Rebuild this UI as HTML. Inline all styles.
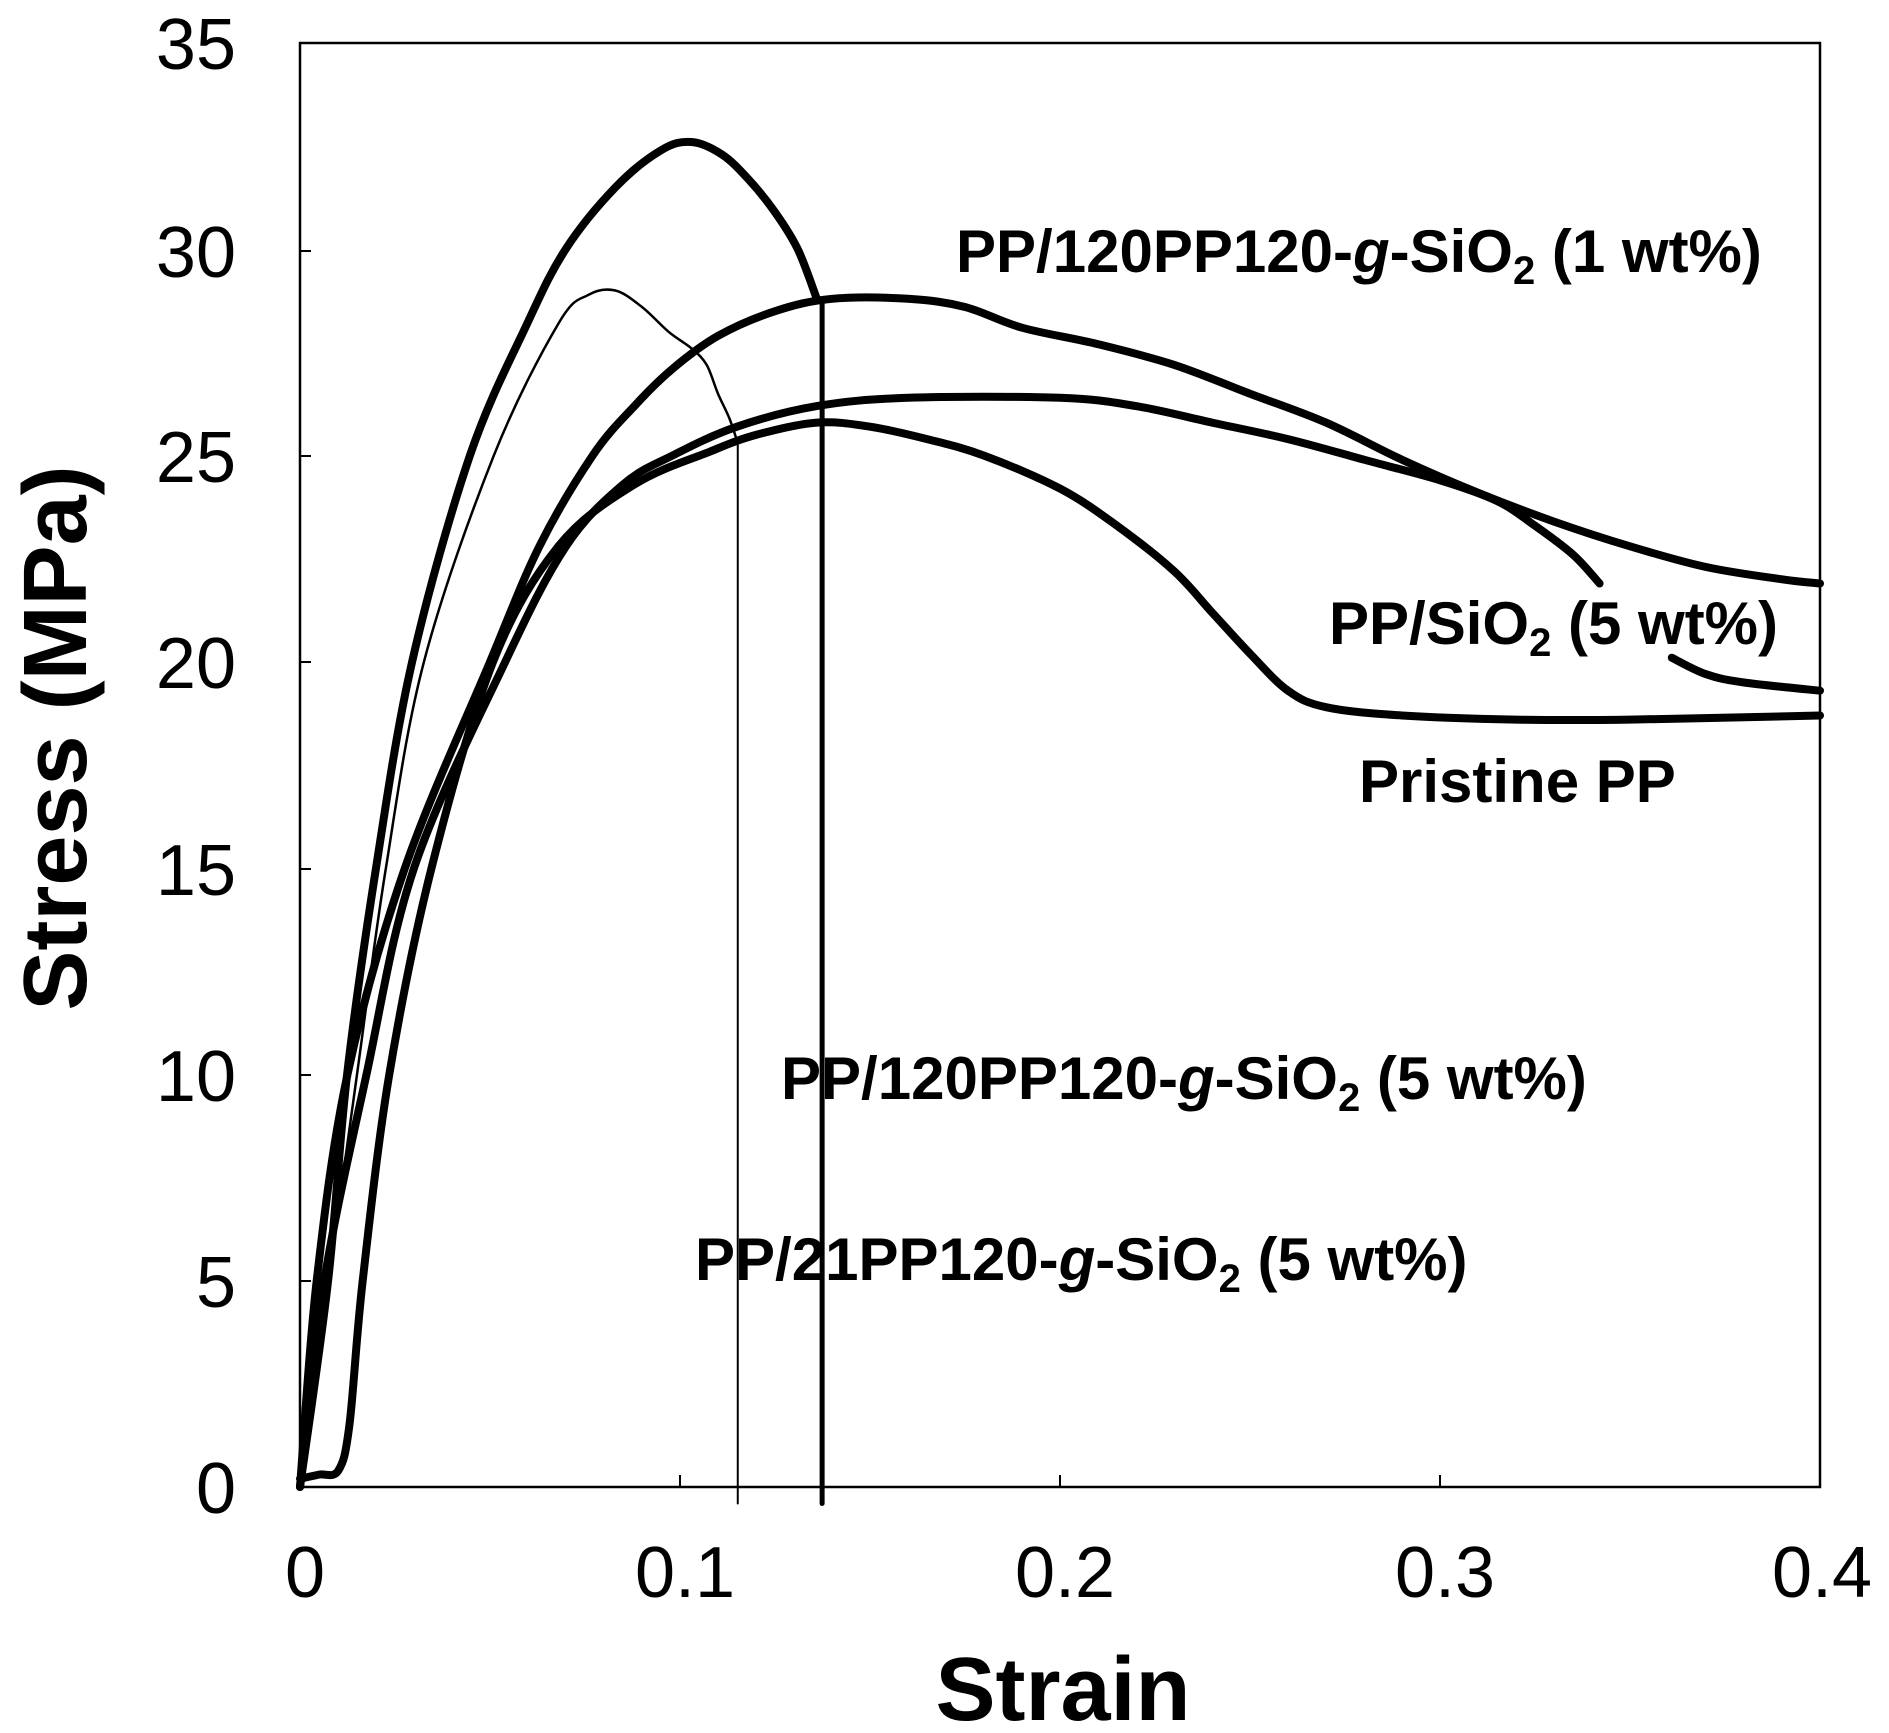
<!DOCTYPE html>
<html><head><meta charset="utf-8"><style>
html,body{margin:0;padding:0;background:#fff}
svg{display:block}
text{font-family:"Liberation Sans",Arial,sans-serif;fill:#000}
</style></head><body>
<svg id="s" width="1889" height="1733" viewBox="0 0 1889 1733" xmlns="http://www.w3.org/2000/svg">
<rect x="300" y="43" width="1520" height="1444" fill="none" stroke="#000" stroke-width="2.5"/>
<g stroke="#000" stroke-width="2">
<line x1="300" y1="251" x2="311" y2="251"/><line x1="300" y1="456" x2="311" y2="456"/>
<line x1="300" y1="662" x2="311" y2="662"/><line x1="300" y1="869" x2="311" y2="869"/>
<line x1="300" y1="1075" x2="311" y2="1075"/><line x1="300" y1="1281" x2="311" y2="1281"/>
<line x1="680" y1="1487" x2="680" y2="1475"/><line x1="1060" y1="1487" x2="1060" y2="1475"/>
<line x1="1440" y1="1487" x2="1440" y2="1475"/>
</g>
<g font-size="72" text-anchor="end">
<text x="236" y="69">35</text><text x="236" y="277">30</text><text x="236" y="482">25</text>
<text x="236" y="688">20</text><text x="236" y="895">15</text><text x="236" y="1101">10</text>
<text x="236" y="1307">5</text><text x="236" y="1513">0</text>
</g>
<g font-size="72" text-anchor="middle">
<text x="305" y="1597">0</text><text x="685" y="1597">0.1</text><text x="1065" y="1597">0.2</text>
<text x="1445" y="1597">0.3</text><text x="1822" y="1597">0.4</text>
</g>
<text x="1063" y="1720" font-size="90" font-weight="bold" text-anchor="middle">Strain</text>
<text transform="translate(86,738) rotate(-90)" font-size="90" font-weight="bold" text-anchor="middle">Stress (MPa)</text>
<g id="curves" fill="none" stroke="#000" stroke-linejoin="round" stroke-linecap="round"></g>
<g font-size="60" font-weight="bold">
<text x="956" y="272">PP/120PP120-<tspan font-style="italic">g</tspan>-SiO<tspan font-size="40" dy="12">2</tspan><tspan dy="-12"> (1 wt%)</tspan></text>
<text x="1329" y="644">PP/SiO<tspan font-size="40" dy="12">2</tspan><tspan dy="-12"> (5 wt%)</tspan></text>
<text x="1359" y="802">Pristine PP</text>
<text x="781" y="1099">PP/120PP120-<tspan font-style="italic">g</tspan>-SiO<tspan font-size="40" dy="12">2</tspan><tspan dy="-12"> (5 wt%)</tspan></text>
<text x="695" y="1280">PP/21PP120-<tspan font-style="italic">g</tspan>-SiO<tspan font-size="40" dy="12">2</tspan><tspan dy="-12"> (5 wt%)</tspan></text>
</g>
</svg>
<script>
var X=function(s){return 300+3800*s},Y=function(v){return 1487-41.257*v};
function path(p){var pts=p.map(function(a){return [X(a[0]),Y(a[1])]});
var d="M"+pts[0][0].toFixed(1)+","+pts[0][1].toFixed(1);
for(var i=0;i<pts.length-1;i++){var p0=pts[Math.max(0,i-1)],p1=pts[i],p2=pts[i+1],p3=pts[Math.min(pts.length-1,i+2)];
var c1=[p1[0]+(p2[0]-p0[0])/6,p1[1]+(p2[1]-p0[1])/6],c2=[p2[0]-(p3[0]-p1[0])/6,p2[1]-(p3[1]-p1[1])/6];
d+="C"+c1[0].toFixed(1)+","+c1[1].toFixed(1)+" "+c2[0].toFixed(1)+","+c2[1].toFixed(1)+" "+p2[0].toFixed(1)+","+p2[1].toFixed(1);}
return d;}
var g=document.getElementById("curves");
function add(p,w){var e=document.createElementNS("http://www.w3.org/2000/svg","path");e.setAttribute("d",path(p));e.setAttribute("stroke-width",w);g.appendChild(e);}
function line(x1,y1,x2,y2,w){var e=document.createElementNS("http://www.w3.org/2000/svg","line");
e.setAttribute("x1",X(x1));e.setAttribute("y1",Y(y1));e.setAttribute("x2",X(x2));e.setAttribute("y2",Y(y2));e.setAttribute("stroke-width",w);e.setAttribute("stroke","#000");g.appendChild(e);}
// A: 1 wt%
add([[0,0],[0.0074,5],[0.0124,10],[0.02,15],[0.0295,20],[0.0447,25],[0.0598,28.2],[0.0699,30],[0.083,31.5],[0.095,32.4],[0.103,32.6],[0.111,32.3],[0.118,31.7],[0.125,30.9],[0.131,30],[0.136,28.8]],8);
line(0.1374,28.8,0.1374,-0.4,5);
// B thin
add([[0,0],[0.0075,5],[0.015,10],[0.0226,15],[0.0326,20],[0.051,25],[0.068,28.2],[0.076,28.9],[0.083,29],[0.09,28.6],[0.097,28],[0.103,27.6],[0.107,27.2],[0.11,26.5],[0.113,25.9],[0.1152,25.3]],2.5);
line(0.1152,25.3,0.1152,-0.4,2);
// C
add([[0,0],[0.0044,5],[0.0125,10],[0.0276,15],[0.05,20],[0.063,22.8],[0.077,25],[0.088,26.2],[0.098,27.1],[0.11,27.9],[0.125,28.5],[0.14,28.8],[0.16,28.8],[0.175,28.6],[0.19,28.1],[0.21,27.7],[0.23,27.2],[0.25,26.5],[0.27,25.8],[0.29,24.9],[0.31,24.1],[0.33,23.4],[0.35,22.8],[0.37,22.3],[0.39,22],[0.4,21.9]],8);
// D
add([[0,0],[0.0064,5],[0.0175,10],[0.03,15],[0.054,20],[0.07,22.8],[0.085,24.3],[0.098,25],[0.115,25.7],[0.136,26.2],[0.16,26.4],[0.2,26.4],[0.22,26.2],[0.24,25.8],[0.26,25.4],[0.28,24.9],[0.3,24.4],[0.315,23.9],[0.325,23.3],[0.335,22.6],[0.342,21.9]],8);
add([[0.361,20.1],[0.37,19.7],[0.38,19.5],[0.4,19.3]],8);
// E pristine
add([[0,0.2],[0.005,0.3],[0.0101,0.4],[0.013,1.5],[0.0165,5],[0.0235,10],[0.0346,15],[0.0508,20],[0.068,22.8],[0.088,24.3],[0.108,25.1],[0.12,25.5],[0.136,25.8],[0.15,25.7],[0.165,25.4],[0.18,25],[0.2,24.2],[0.215,23.3],[0.23,22.2],[0.24,21.2],[0.25,20.2],[0.26,19.3],[0.27,18.9],[0.29,18.7],[0.32,18.6],[0.35,18.6],[0.4,18.7]],8);
</script>
</body></html>
